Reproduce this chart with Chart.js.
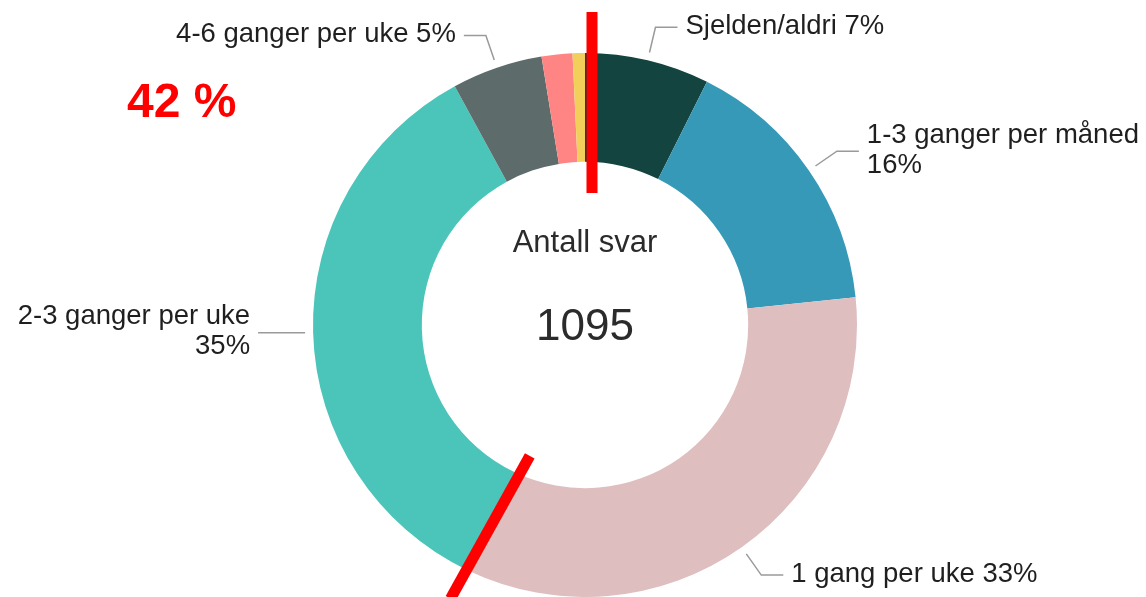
<!DOCTYPE html>
<html>
<head>
<meta charset="utf-8">
<script src="https://cdn.jsdelivr.net/npm/chart.js@4"></script>
<style>
  html, body { margin: 0; padding: 0; background: #fff; }
  #wrap { width: 1146px; height: 597px; position: relative; }
</style>
</head>
<body>
<div id="wrap"><canvas id="freq_chart"></canvas></div>
<script>
// svar fordelt på kategori (antall)
var categories = ["Sjelden/aldri", "1-3 ganger per måned", "1 gang per uke", "2-3 ganger per uke", "4-6 ganger per uke", "Daglig", "Flere ganger daglig"];
var counts = [81, 175, 369, 383, 59, 20, 8];
var pctLabels = ["7%", "16%", "33%", "35%", "5%", "", ""];
var colors = ["#13443F", "#3699B8", "#DFBEBF", "#4BC5BA", "#5E6B6B", "#FF8585", "#F2CF5B"];
var totalText = "1095";
var highlightText = "42 %";

var labelFont = "27.5px 'Liberation Sans', Arial, sans-serif";

// labels with leader lines, only for the big slices
var leaderLabels = {
  id: "leaderLabels",
  afterDatasetsDraw: function (chart) {
    var c = chart.ctx;
    var arcs = chart.getDatasetMeta(0).data;
    c.save();
    c.font = labelFont;
    c.fillStyle = "#1f1f1f";
    c.textBaseline = "middle";
    arcs.forEach(function (arc, i) {
      if (!pctLabels[i]) return;
      var mid = (arc.startAngle + arc.endAngle) / 2;
      var r0 = arc.outerRadius + 8;
      var r1 = arc.outerRadius + 34;
      var x0 = arc.x + Math.cos(mid) * r0, y0 = arc.y + Math.sin(mid) * r0;
      var x1 = arc.x + Math.cos(mid) * r1, y1 = arc.y + Math.sin(mid) * r1;
      var right = Math.cos(mid) >= 0;
      var x2 = x1 + (right ? 22 : -22);
      if (i === 3) { x1 = x0; y1 = y0; x2 = x0 - 47; }
      c.strokeStyle = "#9a9a9a";
      c.lineWidth = 1.5;
      c.beginPath();
      c.moveTo(x0, y0);
      c.lineTo(x1, y1);
      c.lineTo(x2, y1);
      c.stroke();
      var tx = x2 + (right ? 8 : -8);
      c.textAlign = right ? "left" : "right";
      var lines;
      if (i === 1 || i === 3) lines = [categories[i], pctLabels[i]];
      else lines = [categories[i] + " " + pctLabels[i]];
      var y = y1 - (lines.length - 1) * 15 - 1;
      lines.forEach(function (t, k) { c.fillText(t, tx, y + k * 30); });
    });
    c.restore();
  }
};

// centre text and the red annotation marks
var overlay = {
  id: "overlay",
  afterDraw: function (chart) {
    var c = chart.ctx;
    var arcs = chart.getDatasetMeta(0).data;
    var cx = arcs[0].x, cy = arcs[0].y;
    c.save();
    c.textAlign = "center";
    c.textBaseline = "middle";
    c.fillStyle = "#2b2b2b";
    c.font = "31px 'Liberation Sans', Arial, sans-serif";
    c.fillText("Antall svar", cx, cy - 82);
    c.font = "44px 'Liberation Sans', Arial, sans-serif";
    c.fillText(totalText, cx, cy + 3);

    c.strokeStyle = "#ff0000";
    c.lineWidth = 11;
    c.lineCap = "butt";
    // vertical mark at the start (top)
    c.beginPath();
    c.moveTo(cx + 7, cy - 313);
    c.lineTo(cx + 7, cy - 132);
    c.stroke();
    // diagonal mark at the end of "1 gang per uke"
    var b = arcs[2].endAngle;
    c.beginPath();
    c.moveTo(cx + Math.cos(b - 0.045) * 142, cy + Math.sin(b - 0.045) * 142);
    c.lineTo(cx + Math.cos(b + 0.012) * 305, cy + Math.sin(b + 0.012) * 305);
    c.stroke();

    c.fillStyle = "#ff0000";
    c.textAlign = "left";
    c.textBaseline = "alphabetic";
    c.font = "bold 48px 'Liberation Sans', Arial, sans-serif";
    c.fillText(highlightText, 127, 117);
    c.restore();
  }
};

var ctx = document.getElementById("freq_chart").getContext("2d");
var freq_chart = new Chart(ctx, {
  type: "doughnut",
  data: {
    labels: categories,
    datasets: [
      {
        data: counts,
        backgroundColor: colors,
        borderWidth: 0,
      },
    ],
  },
  options: {
    responsive: true,
    maintainAspectRatio: false,
    animation: false,
    cutout: "60%",
    layout: {
      padding: { left: 313, right: 289, top: 53, bottom: 0 },
    },
    plugins: {
      legend: { display: false },
      tooltip: { enabled: false },
      title: { display: false },
    },
  },
  plugins: [leaderLabels, overlay],
});
</script>
</body>
</html>
